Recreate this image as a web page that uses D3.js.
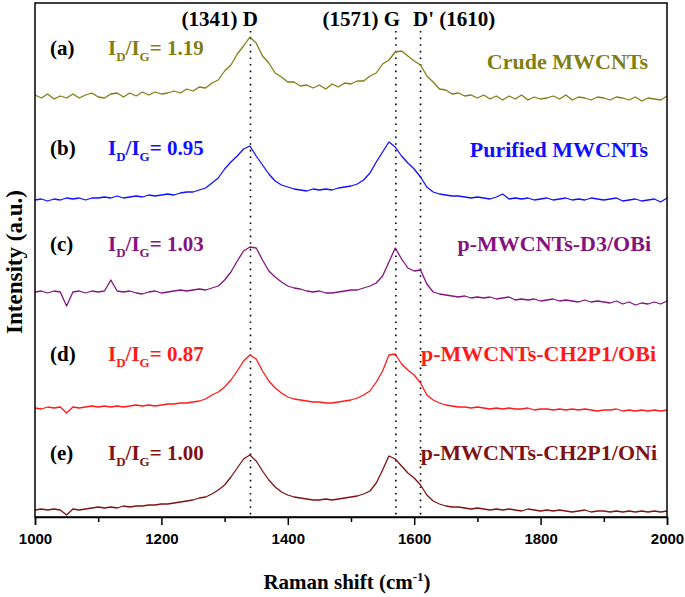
<!DOCTYPE html>
<html>
<head>
<meta charset="utf-8">
<script src="https://cdn.jsdelivr.net/npm/d3@7"></script>
<style>
  html, body { margin: 0; padding: 0; background: #fff; }
  svg { display: block; }
</style>
</head>
<body>
<svg id="chart" width="685" height="597"></svg>
<script>
// ---------------- DATA ----------------
const ramanShift = [1000,1010,1020,1030,1040,1050,1060,1070,1080,1090,
  1100,1110,1120,1130,1140,1150,1160,1170,1180,1190,
  1200,1210,1220,1230,1240,1250,1260,1270,1280,1290,
  1300,1310,1320,1330,1340,1350,1360,1370,1380,1390,
  1400,1410,1420,1430,1440,1450,1460,1470,1480,1490,
  1500,1510,1520,1530,1540,1550,1560,1570,1580,1590,
  1600,1610,1620,1630,1640,1650,1660,1670,1680,1690,
  1700,1710,1720,1730,1740,1750,1760,1770,1780,1790,
  1800,1810,1820,1830,1840,1850,1860,1870,1880,1890,
  1900,1910,1920,1930,1940,1950,1960,1970,1980,1990,2000];

// intensities (a.u.) relative to each spectrum's own baseline
const crudeMWCNTs = [2,-1,3,-2,1,-1,3,-1,2,4, 0,-1,3,4,0,4,1,5,2,5,
  3,4,6,4,8,6,10,9,14,17, 26,32,43,51,60,54,41,34,24,20,
  15,15,11,12,9,12,8,13,10,14, 13,16,16,21,24,33,37,45,46,41,
  36,32,21,15,8,7,3,4,1,2, -1,2,-2,1,-3,1,-2,2,-3,0,
  -2,-1,1,-2,2,-3,0,-1,-3,0, -1,-3,0,-1,-3,0,-4,-1,-2,-3,1];
const purifiedMWCNTs = [0,1,-1,1,0,2,1,2,0,2, 2,3,2,4,2,3,4,3,5,4,
  5,6,5,7,8,8,10,12,17,22, 31,38,44,51,54,44,35,26,19,15,
  13,11,10,9,11,10,11,10,12,13, 14,16,20,27,38,48,58,53,44,37,
  31,23,13,8,6,5,4,4,3,2, 3,2,1,3,6,1,2,1,2,0,
  1,2,0,1,2,0,1,0,2,1, 0,1,2,-1,0,1,-1,0,1,-2,2];
const pD3OBi = [0,1,-1,1,0,-14,0,1,-1,1, 0,1,12,1,0,1,-1,-2,0,1,
  -1,0,1,2,1,2,3,2,4,6, 12,20,31,41,45,44,32,21,15,10,
  6,4,3,1,0,1,-1,-1,0,1, 2,2,4,6,9,16,30,44,33,24,
  21,22,8,0,-2,-3,-4,-5,-4,-6, -5,-6,-5,-7,-6,-5,-8,-7,-8,-7,
  -9,-8,-7,-9,-8,-9,-10,-8,-10,-9, -10,-11,-9,-12,-10,-13,-11,-12,-10,-12,-9];
const pCH2P1OBi = [0,-1,1,0,1,-5,1,0,1,2, 1,2,1,2,1,2,3,2,3,2,
  3,4,4,5,5,6,7,9,13,16, 21,28,37,47,53,49,37,27,20,15,
  11,9,8,7,6,6,5,5,6,7, 8,10,13,17,26,37,53,54,44,38,
  33,25,13,8,5,3,2,1,1,0, 1,0,-1,0,-1,0,-1,-1,0,-2,
  -1,-1,-2,-1,-2,-1,-2,-1,-2,-3, -2,-2,-1,-3,-2,-3,-2,-3,-2,-3,-2];
const pCH2P1ONi = [0,1,0,1,0,-5,1,0,1,2, 3,2,3,2,4,3,4,4,5,5,
  6,6,7,8,9,10,12,13,16,20, 25,33,42,51,55,49,39,30,23,18,
  15,13,12,11,10,10,11,10,11,12, 13,14,16,19,27,40,54,51,44,37,
  32,25,15,9,6,4,3,3,2,1, 2,1,0,1,0,1,0,-1,1,0,
  -1,0,-1,0,-1,-2,-1,0,-2,-1, -1,-2,-1,-2,-1,-2,-1,-2,-1,-2,-1];

const seriesNames = ["Crude MWCNTs", "Purified MWCNTs", "p-MWCNTs-D3/OBi", "p-MWCNTs-CH2P1/OBi", "p-MWCNTs-CH2P1/ONi"];
const seriesTags = ["(a)", "(b)", "(c)", "(d)", "(e)"];
const ratios = ["1.19", "0.95", "1.03", "0.87", "1.00"];
const stackOffsets = [420, 317, 225, 109, 7];
const seriesColors = ["#7f7f13", "#1010ff", "#84137f", "#ff1a1a", "#7f1212"];
const peakPositions = [1341, 1571, 1610];
const majorTicks = [1000, 1200, 1400, 1600, 1800, 2000];
const minorTicks = [1100, 1300, 1500, 1700, 1900];

const allSeries = [crudeMWCNTs, purifiedMWCNTs, pD3OBi, pCH2P1OBi, pCH2P1ONi];

// ---------------- LAYOUT ----------------
const svg = d3.select("#chart");
const L = 35, R = 667, T = 3, B = 517;
const x = d3.scaleLinear().domain([1000, 2000]).range([L, R]);
const y = d3.scaleLinear().domain([0, 514]).range([B, T]);
const serif = "'Liberation Serif', 'Times New Roman', serif";
const sans = "'Liberation Sans', Arial, sans-serif";

// dotted peak lines
svg.append("g").selectAll("line").data(peakPositions).join("line")
  .attr("x1", d => x(d)).attr("x2", d => x(d))
  .attr("y1", 31).attr("y2", B)
  .attr("stroke", "#000").attr("stroke-width", 1.6)
  .attr("stroke-dasharray", "1.6,5");

// spectra
const line = d3.line().x((d, i) => x(ramanShift[i]));
allSeries.forEach((s, k) => {
  svg.append("path")
    .datum(s)
    .attr("fill", "none")
    .attr("stroke", seriesColors[k])
    .attr("stroke-width", 1.3)
    .attr("stroke-linejoin", "round")
    .attr("d", line.y(v => y(v + stackOffsets[k])));
});

// frame
svg.append("rect").attr("x", L).attr("y", T).attr("width", R - L).attr("height", B - T)
  .attr("fill", "none").attr("stroke", "#000").attr("stroke-width", 1.5);

// x axis
const axMajor = svg.append("g").attr("transform", `translate(0,${B})`)
  .call(d3.axisBottom(x).tickValues(majorTicks).tickSize(8).tickPadding(8).tickFormat(d3.format("d")));
axMajor.select(".domain").attr("stroke-width", 1.5);
axMajor.selectAll(".tick line").attr("stroke-width", 1.5);
axMajor.selectAll(".tick text").attr("font-family", sans).attr("font-weight", "bold")
  .attr("font-size", 15).attr("fill", "#000");
const axMinor = svg.append("g").attr("transform", `translate(0,${B})`)
  .call(d3.axisBottom(x).tickValues(minorTicks).tickSize(5).tickFormat(""));
axMinor.select(".domain").remove();
axMinor.selectAll(".tick line").attr("stroke-width", 1.5);

// axis titles
const xt = svg.append("text").attr("x", 347).attr("y", 589).attr("text-anchor", "middle")
  .attr("font-family", serif).attr("font-weight", "bold").attr("font-size", 21);
xt.append("tspan").text("Raman shift (cm");
xt.append("tspan").attr("dy", -8).attr("font-size", 13).text("-1");
xt.append("tspan").attr("dy", 8).text(")");

svg.append("text").attr("transform", "translate(22,262) rotate(-90)")
  .attr("text-anchor", "middle")
  .attr("font-family", serif).attr("font-weight", "bold").attr("font-size", 23)
  .text("Intensity (a.u.)");

// peak labels
const peakLabels = [["(1341) D", 258, "end"], ["(1571) G", 400, "end"], ["D' (1610)", 413, "start"]];
svg.append("g").selectAll("text").data(peakLabels).join("text")
  .attr("x", d => d[1]).attr("y", 26).attr("text-anchor", d => d[2])
  .attr("font-family", serif).attr("font-weight", "bold").attr("font-size", 21)
  .text(d => d[0]);

// sample tags, ratios, names
const tagY = [55, 155, 251, 361, 460];
const nameY = [69, 157, 251, 361, 460];
const nameX = [648, 648, 651, 656, 657];
seriesTags.forEach((t, k) => {
  svg.append("text").attr("x", 50).attr("y", tagY[k])
    .attr("font-family", serif).attr("font-weight", "bold").attr("font-size", 21)
    .attr("fill", "#000").text(t);
  const r = svg.append("text").attr("x", 108).attr("y", tagY[k])
    .attr("font-family", serif).attr("font-weight", "bold").attr("font-size", 21)
    .attr("fill", seriesColors[k]);
  r.append("tspan").text("I");
  r.append("tspan").attr("dy", 6).attr("font-size", 13).text("D");
  r.append("tspan").attr("dy", -6).text("/I");
  r.append("tspan").attr("dy", 6).attr("font-size", 13).text("G");
  r.append("tspan").attr("dy", -6).text("= " + ratios[k]);
  svg.append("text").attr("x", nameX[k]).attr("y", nameY[k]).attr("text-anchor", "end")
    .attr("font-family", serif).attr("font-weight", "bold").attr("font-size", 22)
    .attr("fill", seriesColors[k]).text(seriesNames[k]);
});
</script>
</body>
</html>
